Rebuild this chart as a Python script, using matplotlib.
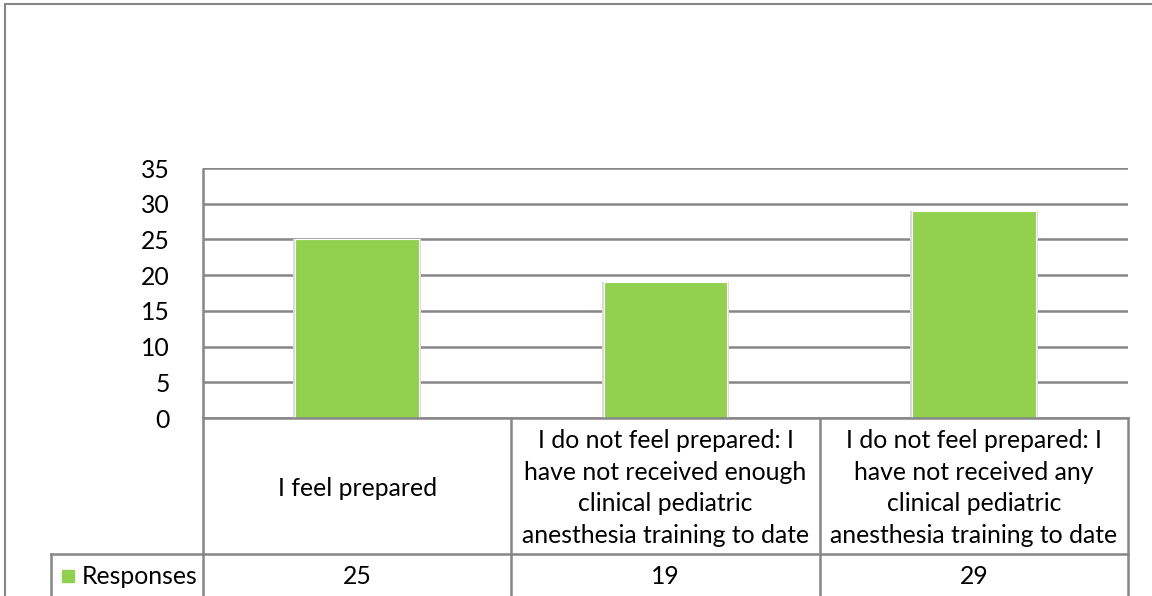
import matplotlib
matplotlib.use("Agg")
import matplotlib.pyplot as plt
from matplotlib.transforms import blended_transform_factory
from matplotlib.patches import Rectangle

categories = [
    "I feel prepared",
    "I do not feel prepared: I\nhave not received enough\nclinical pediatric\nanesthesia training to date",
    "I do not feel prepared: I\nhave not received any\nclinical pediatric\nanesthesia training to date",
]
responses = [25, 19, 29]
series_name = "Responses"
yticks = [0, 5, 10, 15, 20, 25, 30, 35]

W, H = 1152, 596
green = "#92D050"
grey = "#868686"
font = "Lato"
fs = 17.8

fig = plt.figure(figsize=(W / 100, H / 100), dpi=100)
plt.rcParams["font.family"] = [font, "DejaVu Sans"]

def fx(px):
    return px / W

def fy(py):
    return 1 - py / H

# chart border
fig.patches.append(Rectangle((fx(5), fy(700)), fx(1200), fy(4) - fy(700),
                             transform=fig.transFigure, fill=False,
                             edgecolor=grey, lw=1.5))

ax = fig.add_axes([fx(203), fy(418), fx(1128) - fx(203), fy(168) - fy(418)])
x = list(range(len(categories)))
# faint shadow behind the bars
ax.bar(x, responses, width=0.415, color="#d9d9d9", lw=0, zorder=2)
ax.bar(x, responses, width=0.4, color=green, edgecolor="white", lw=0.8, zorder=3)
ax.set_xlim(-0.5, len(categories) - 0.5)
ax.set_ylim(0, 35)
ax.set_yticks(yticks)
ax.set_yticklabels([str(t) for t in yticks], fontsize=fs)
ax.tick_params(axis="y", length=0, pad=24)
ax.set_xticks([])
for s in ["top", "right", "bottom"]:
    ax.spines[s].set_visible(False)
ax.spines["left"].set_color(grey)
ax.spines["left"].set_linewidth(1.8)
ax.spines["left"].set_capstyle("butt")
ax.grid(axis="y", color=grey, lw=1.8, zorder=0)
ax.set_axisbelow(True)

# data table under the plot
tr = blended_transform_factory(ax.transData, fig.transFigure)
row_top, row_mid, row_bot = fy(418), fy(554), fy(640)
lk = dict(color=grey, lw=1.8, clip_on=False, transform=tr, zorder=4)
for b in [-0.5, 0.5, 1.5, 2.5]:
    ax.plot([b, b], [row_bot, row_top], **lk)
ax.plot([-0.5, 2.5], [row_top, row_top], **lk)
ax.plot([-0.5, 2.5], [row_mid, row_mid], **lk)
# legend cell
ax.plot([fx(51), fx(203)], [row_mid, row_mid], color=grey, lw=1.8,
        clip_on=False, transform=fig.transFigure)
ax.plot([fx(51), fx(51)], [row_mid, row_bot], color=grey, lw=1.8,
        clip_on=False, transform=fig.transFigure)

for i, (c, v) in enumerate(zip(categories, responses)):
    ax.text(i, fy(488), c, transform=tr, ha="center",
            va="center", fontsize=fs, linespacing=1.44, clip_on=False)
    ax.text(i, fy(577), str(v), transform=tr, ha="center", va="center",
            fontsize=fs, clip_on=False)

fig.patches.append(Rectangle((fx(62), fy(582)), fx(12), fy(570) - fy(582),
                             transform=fig.transFigure, color=green))
fig.text(fx(82), fy(577), series_name, ha="left", va="center", fontsize=fs)

fig.savefig("out.png", dpi=100)
